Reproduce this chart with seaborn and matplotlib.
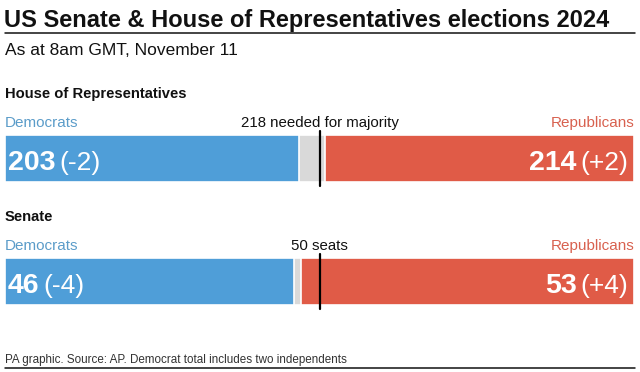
import numpy as np
import pandas as pd
import matplotlib
matplotlib.use("Agg")  # headless backend
import matplotlib.pyplot as plt
from matplotlib.lines import Line2D
import seaborn as sns

# ---------- data ----------
chambers = ["House of Representatives", "Senate"]
dem_seats = [203, 46]
rep_seats = [214, 53]
total_seats = [435, 100]
dem_change = ["(-2)", "(-4)"]
rep_change = ["(+2)", "(+4)"]
majority = [218, 50]
majority_labels = ["218 needed for majority", "50 seats"]

BLUE = "#4f9ed8"
RED = "#e05b47"
GREY = "#d9d9d9"
BLUE_TXT = "#5b9cc9"
RED_TXT = "#d8614f"

sns.set_theme(style="white")
plt.rcParams["font.family"] = ["Liberation Sans", "DejaVu Sans"]

W, H = 640, 372
fig = plt.figure(figsize=(W / 100, H / 100), dpi=100)


def fy(px):
    # pixel from top -> figure fraction
    return 1 - px / H


def fx(px):
    return px / W


# ---------- header / footer ----------
fig.text(fx(4), fy(27), "US Senate & House of Representatives elections 2024",
         fontsize=17, fontweight="bold", color="#111111", va="baseline")
fig.add_artist(Line2D([fx(5), fx(635)], [fy(32.5), fy(32.5)], color="#111111", lw=1.1))
fig.text(fx(5), fy(55), "As at 8am GMT, November 11", fontsize=12.5,
         color="#111111", va="baseline")
fig.text(fx(5), fy(363), "PA graphic. Source: AP. Democrat total includes two independents",
         fontsize=8.4, color="#333333", va="baseline")
fig.add_artist(Line2D([fx(5), fx(635)], [fy(368), fy(368)], color="#111111", lw=1.1))

bar_tops = [135, 258]
bar_h = 47
num_base = 0.255  # baseline of the numbers, as axes fraction

for i, name in enumerate(chambers):
    top = bar_tops[i]
    ax = fig.add_axes([fx(5), fy(top + bar_h), fx(629), bar_h / H])
    # layered bars: full total in red, dem+vacant in grey, dem in blue
    layers = pd.DataFrame({
        "seats": [total_seats[i], total_seats[i] - rep_seats[i], dem_seats[i]],
        "colour": [RED, GREY, BLUE],
    })
    for _, row in layers.iterrows():
        sns.barplot(x=[row["seats"]], y=[0], orient="h", color=row["colour"],
                    width=1, edgecolor="white", linewidth=1.2, saturation=1, ax=ax)
    ax.set_xlim(0, total_seats[i])
    ax.set_ylim(0.5, -0.5)
    ax.axis("off")

    # majority line
    ax.axvline(majority[i], ymin=-0.08, ymax=1.08, color="black", lw=1.6, clip_on=False)
    ax.annotate(majority_labels[i], xy=(majority[i], 1), xycoords=("data", "axes fraction"),
                xytext=(0, 6), textcoords="offset points", ha="center", va="baseline",
                fontsize=10.8, color="#111111")

    # section and party labels
    fig.text(fx(5), fy(top - 37), name, fontsize=10.6, fontweight="bold",
             color="#111111", va="baseline")
    ax.annotate("Democrats", xy=(0, 1), xycoords="axes fraction", xytext=(0, 6),
                textcoords="offset points", ha="left", va="baseline",
                fontsize=11, color=BLUE_TXT)
    ax.annotate("Republicans", xy=(1, 1), xycoords="axes fraction", xytext=(0, 6),
                textcoords="offset points", ha="right", va="baseline",
                fontsize=11, color=RED_TXT)

    # numbers inside bars, all on one baseline
    t1 = ax.annotate(str(dem_seats[i]), xy=(0, num_base), xycoords="axes fraction",
                     xytext=(2, 0), textcoords="offset points", ha="left", va="baseline",
                     fontsize=20.5, fontweight="bold", color="white")
    ax.annotate(dem_change[i], xy=(1, num_base), xycoords=(t1, "axes fraction"),
                xytext=(3, 0), textcoords="offset points", ha="left", va="baseline",
                fontsize=19, color="white")
    t2 = ax.annotate(rep_change[i], xy=(1, num_base), xycoords="axes fraction",
                     xytext=(-4, 0), textcoords="offset points", ha="right", va="baseline",
                     fontsize=19, color="white")
    ax.annotate(str(rep_seats[i]), xy=(0, num_base), xycoords=(t2, "axes fraction"),
                xytext=(-3, 0), textcoords="offset points", ha="right", va="baseline",
                fontsize=20.5, fontweight="bold", color="white")

fig.savefig("out.png", dpi=100)
plt.close("all")
